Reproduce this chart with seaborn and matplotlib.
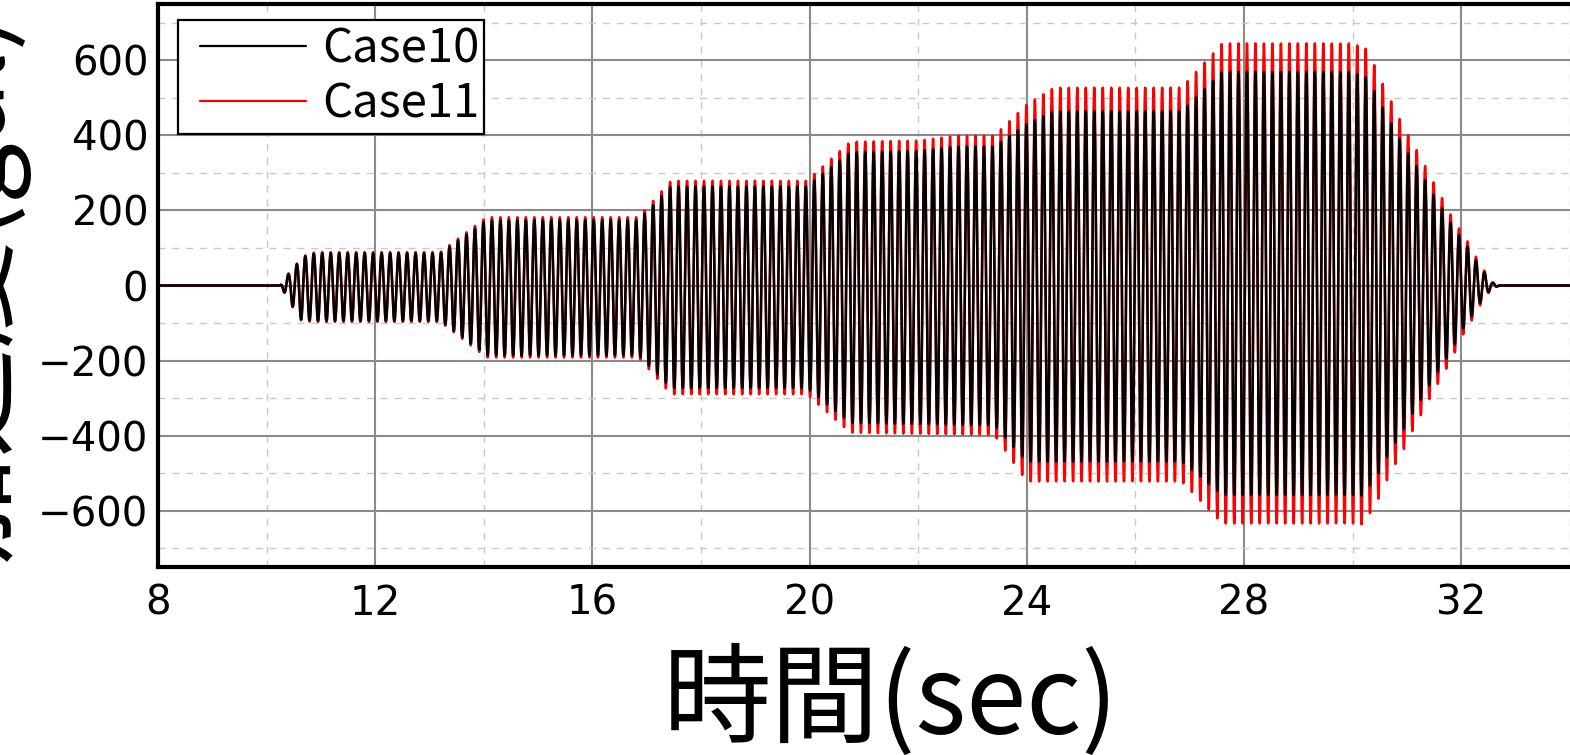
import numpy as np
import pandas as pd
import matplotlib
matplotlib.use("Agg")
import matplotlib.pyplot as plt
from matplotlib.ticker import MultipleLocator
from matplotlib.lines import Line2D
from matplotlib.legend_handler import HandlerLine2D
import seaborn as sns

# ---- series data -------------------------------------------------------
# stepped sine sweep: carrier frequency and time of the first positive peak
carrier_hz = 6.4
first_peak_s = 10.40

# positive-peak envelopes (gal) at knot times (sec)
pos_t = [10.25, 10.40, 10.56, 10.71, 10.90, 13.20, 14.05, 16.85, 17.45, 19.95,
         20.75, 22.00, 22.70, 23.40, 24.00, 24.50, 26.85, 27.60, 30.00, 30.11,
         30.26, 30.41, 30.57, 30.72, 30.88, 31.04, 31.20, 31.35, 31.50, 31.66,
         31.81, 31.97, 32.13, 32.28, 32.44, 32.56, 32.70]
case11_pos = [0, 32, 59, 80, 89, 89, 182, 182, 279, 279,
              383, 386, 399, 399, 482, 527, 527, 645, 645, 638,
              630, 584, 533, 488, 440, 396, 356, 315, 273, 230,
              188, 150, 115, 75, 37, 10, 0]
case10_pos = [0, 30, 57, 78, 86, 86, 174, 174, 264, 264,
              355, 358, 370, 370, 430, 464, 464, 569, 569, 562,
              554, 515, 470, 430, 388, 349, 314, 278, 241, 203,
              166, 132, 101, 66, 33, 9, 0]

# negative-peak envelopes (gal) at knot times (sec)
neg_t = [10.25, 10.32, 10.48, 10.64, 10.85, 13.20, 14.05, 16.85, 17.45, 19.95,
         20.75, 23.40, 24.00, 26.85, 27.60, 30.05, 30.19, 30.34, 30.51, 30.64,
         30.80, 30.96, 31.11, 31.28, 31.43, 31.59, 31.75, 31.91, 32.06, 32.22,
         32.37, 32.53, 32.70]
case11_neg = [0, -18, -58, -94, -97, -97, -192, -192, -290, -290,
              -392, -398, -522, -522, -634, -634, -637, -602, -560, -517,
              -473, -432, -386, -340, -299, -257, -216, -171, -124, -88,
              -48, -15, 0]
case10_neg = [0, -17, -56, -91, -94, -94, -186, -186, -273, -273,
              -366, -372, -469, -469, -558, -558, -560, -530, -493, -455,
              -416, -380, -340, -299, -263, -226, -190, -150, -109, -77,
              -42, -13, 0]

case_names = ["Case10", "Case11"]
case_colors = {"Case10": "black", "Case11": "red"}
x_ticks = [8, 12, 16, 20, 24, 28, 32]
y_ticks = [-600, -400, -200, 0, 200, 400, 600]

# ---- build the acceleration records -------------------------------------
t = np.arange(8.0, 35.0, 0.002)
phase = np.cos(2 * np.pi * carrier_hz * (t - first_peak_s))


def record(pos_vals, neg_vals):
    up = np.interp(t, pos_t, pos_vals, left=0, right=0)
    dn = -np.interp(t, neg_t, neg_vals, left=0, right=0)
    return np.where(phase >= 0, up * phase, dn * phase)


df = pd.concat([
    pd.DataFrame({"time": t, "acc": record(case10_pos, case10_neg), "case": "Case10"}),
    pd.DataFrame({"time": t, "acc": record(case11_pos, case11_neg), "case": "Case11"}),
], ignore_index=True)

# ---- figure --------------------------------------------------------------
sns.set_style("white")
plt.rcParams["font.family"] = ["DejaVu Sans"]
plt.rcParams["axes.unicode_minus"] = True
for key in ["text.color", "axes.labelcolor", "xtick.color", "ytick.color",
            "axes.edgecolor"]:
    plt.rcParams[key] = "black"

W, H = 1570, 755
fig = plt.figure(figsize=(W / 100, H / 100), dpi=100)
ax = fig.add_axes([158 / W, 1 - 567 / H, 1466 / W, 563 / H])

# Case11 first so Case10 sits on top of it
for name in ["Case11", "Case10"]:
    sns.lineplot(data=df[df["case"] == name], x="time", y="acc",
                 color=case_colors[name], lw=1.8, estimator=None, sort=False,
                 legend=False, ax=ax, zorder=3)

ax.set_xlim(8, 35)
ax.set_ylim(-750, 750)
ax.xaxis.set_minor_locator(MultipleLocator(2))
ax.yaxis.set_minor_locator(MultipleLocator(100))
ax.set_xticks(x_ticks)
ax.set_xticklabels([str(v) for v in x_ticks])
ax.set_yticks(y_ticks)
ax.set_yticklabels([("\u2212" + str(-v)) if v < 0 else str(v) for v in y_ticks])

ax.set_axisbelow(True)
ax.grid(which="major", color="#8a8a8a", lw=1.5, ls="-")
ax.grid(which="minor", color="#c8c8c8", lw=1.0, ls=(0, (5, 5)))

for side in ["left", "bottom", "top", "right"]:
    ax.spines[side].set_visible(True)
    ax.spines[side].set_color("black")
    ax.spines[side].set_linewidth(3.0)

ax.tick_params(which="major", direction="in", length=19, width=3, color="black",
               labelcolor="black", labelsize=29, top=False, right=False)
ax.tick_params(which="minor", direction="in", length=9.5, width=2.2, color="black",
               top=False, right=False)
ax.tick_params(axis="x", which="major", pad=12)
ax.tick_params(axis="y", which="major", pad=7)

jp = "Noto Sans CJK JP"
ax.set_xlabel("時間(sec)", fontsize=78, family=[jp, "DejaVu Sans"], color="black")
ax.set_ylabel("加速度(gal)", fontsize=78, family=[jp, "DejaVu Sans"], color="black")
ax.xaxis.set_label_coords(0.5, -0.142)
ax.yaxis.set_label_coords(-0.088, 0.5)


class InsetLine(HandlerLine2D):
    """Legend line that starts a little inside its handle box."""

    def __init__(self, inset, **kw):
        super().__init__(**kw)
        self.inset = inset

    def get_xdata(self, legend, xdescent, ydescent, width, height, fontsize):
        x0 = -xdescent + self.inset * fontsize
        xdata = np.array([x0, -xdescent + width])
        return xdata, xdata


handles = [Line2D([], [], color=case_colors[n], lw=1.6) for n in case_names]
leg = ax.legend(handles, case_names, loc="upper left",
                bbox_to_anchor=(20 / 1466, 1 - 16 / 563), borderaxespad=0,
                prop={"family": jp, "size": 34}, frameon=True, fancybox=False,
                edgecolor="black", framealpha=1, handlelength=2.6,
                handletextpad=0.35, labelspacing=0.15, borderpad=0.1,
                handler_map={Line2D: InsetLine(0.36)})
leg.get_frame().set_linewidth(1.6)
for txt in leg.get_texts():
    txt.set_color("black")

fig.savefig("out.png", dpi=100, facecolor="white")
